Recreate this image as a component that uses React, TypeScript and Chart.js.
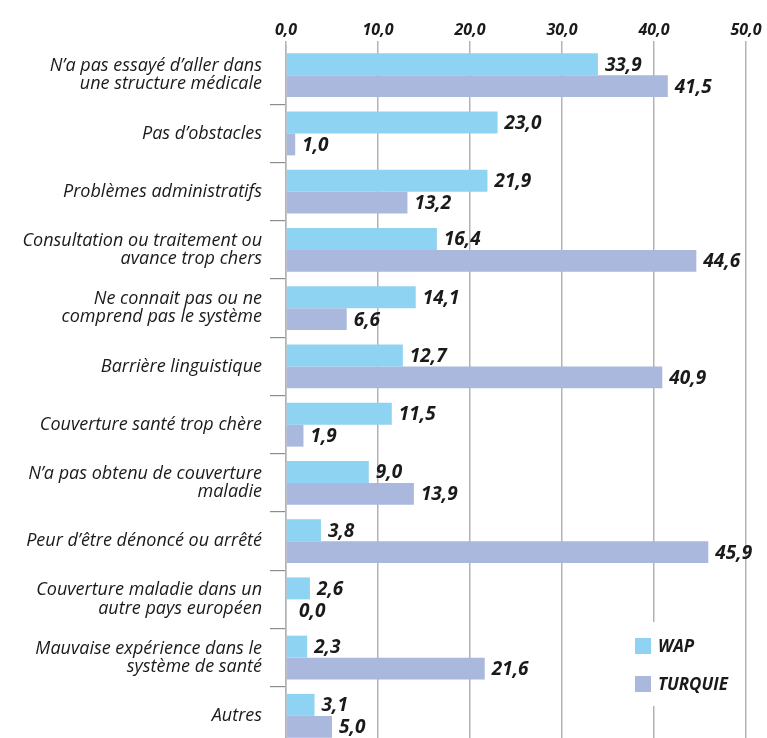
import React, { useEffect, useRef } from "react";
import { Chart, registerables } from "chart.js";

Chart.register(...registerables);

const categories: (string | string[])[] = [
  ["N’a pas essayé d’aller dans", "une structure médicale"],
  "Pas d’obstacles",
  "Problèmes administratifs",
  ["Consultation ou traitement ou", "avance trop chers"],
  ["Ne connait pas ou ne", "comprend pas le système"],
  "Barrière linguistique",
  "Couverture santé trop chère",
  ["N’a pas obtenu de couverture", "maladie"],
  "Peur d’être dénoncé ou arrêté",
  ["Couverture maladie dans un", "autre pays européen"],
  ["Mauvaise expérience dans le", "système de santé"],
  "Autres",
];

const wapValues = [33.9, 23.0, 21.9, 16.4, 14.1, 12.7, 11.5, 9.0, 3.8, 2.6, 2.3, 3.1];
const turquieValues = [41.5, 1.0, 13.2, 44.6, 6.6, 40.9, 1.9, 13.9, 45.9, 0.0, 21.6, 5.0];
const seriesNames = ["WAP", "TURQUIE"];
const seriesColors = ["#8fd3f2", "#a9b8dc"];

const fmt = (v: number) => v.toFixed(1).replace(".", ",");
const FONT = '"Open Sans", "DejaVu Sans", sans-serif';
const TEXT = "#1a1a1a";

const valueLabels = {
  id: "valueLabels",
  afterDatasetsDraw(chart: any) {
    const ctx = chart.ctx;
    ctx.save();
    ctx.font = `italic bold 19px ${FONT}`;
    ctx.fillStyle = TEXT;
    ctx.textAlign = "left";
    ctx.textBaseline = "middle";
    chart.data.datasets.forEach((ds: any, i: number) => {
      const meta = chart.getDatasetMeta(i);
      meta.data.forEach((bar: any, j: number) => {
        const v = ds.data[j] as number;
        const off = v === 0 ? 13 : 7;
        ctx.fillText(fmt(v), bar.x + off, bar.y + 1);
      });
    });
    ctx.restore();
  },
};

const customLegend = {
  id: "customLegend",
  afterDraw(chart: any) {
    const ctx = chart.ctx;
    const area = chart.chartArea;
    const x0 = area.right - 111;
    const y0 = area.bottom - 107;
    ctx.save();
    ctx.fillStyle = "#ffffff";
    ctx.fillRect(x0 - 8, y0 - 16, 108, 84);
    ctx.font = `italic bold 17px ${FONT}`;
    ctx.textAlign = "left";
    ctx.textBaseline = "middle";
    chart.data.datasets.forEach((ds: any, i: number) => {
      const y = y0 + i * 38;
      ctx.fillStyle = ds.backgroundColor;
      ctx.fillRect(x0, y, 16, 16);
      ctx.fillStyle = TEXT;
      ctx.fillText(ds.label, x0 + 23, y + 9);
    });
    ctx.restore();
  },
};

export default function App() {
  const canvasRef = useRef<HTMLCanvasElement | null>(null);

  useEffect(() => {
    document.documentElement.style.overflow = "hidden";
    if (!canvasRef.current) return;
    const chart = new Chart(canvasRef.current, {
      type: "bar",
      data: {
        labels: categories,
        datasets: [
          {
            label: seriesNames[0],
            data: wapValues,
            backgroundColor: seriesColors[0],
            categoryPercentage: 0.755,
            barPercentage: 1,
          },
          {
            label: seriesNames[1],
            data: turquieValues,
            backgroundColor: seriesColors[1],
            categoryPercentage: 0.755,
            barPercentage: 1,
          },
        ],
      },
      options: {
        indexAxis: "y",
        animation: false,
        responsive: true,
        maintainAspectRatio: false,
        layout: { padding: { top: 0, right: 21, bottom: 5, left: 0 } },
        plugins: {
          legend: { display: false },
          tooltip: { enabled: false },
        },
        scales: {
          x: {
            position: "top",
            min: 0,
            max: 50,
            ticks: {
              stepSize: 10,
              padding: 1,
              color: TEXT,
              font: { family: FONT, size: 16, style: "italic", weight: "bold" },
              callback: (v: any) => fmt(Number(v)),
            },
            grid: {
              color: "#b3b3b3",
              lineWidth: 1.5,
              tickLength: 5,
              drawTicks: true,
            },
            border: { display: false },
            afterFit: (scale: any) => {
              scale.height = 38;
              scale.paddingLeft = 0;
              scale.paddingRight = 0;
            },
          },
          y: {
            ticks: {
              padding: 8,
              color: TEXT,
              font: { family: FONT, size: 18, style: "italic", weight: "500", lineHeight: 1.02 },
            },
            grid: {
              offset: true,
              drawOnChartArea: false,
              drawTicks: true,
              tickLength: 16,
              color: (c: any) => (c.index === 0 ? "rgba(0,0,0,0)" : "#8c8c8c"),
              lineWidth: 1.2,
            },
            border: { display: true, color: "#b3b3b3", width: 1.5 },
            afterFit: (scale: any) => {
              scale.width = 278;
              scale.paddingTop = 0;
              scale.paddingBottom = 0;
            },
          },
        },
      },
      plugins: [valueLabels, customLegend],
    });
    return () => chart.destroy();
  }, []);

  return (
    <div
      style={{
        position: "fixed",
        left: "8px",
        top: "8px",
        width: "759px",
        height: "742px",
        background: "#fff",
      }}
    >
      <canvas ref={canvasRef} />
    </div>
  );
}
